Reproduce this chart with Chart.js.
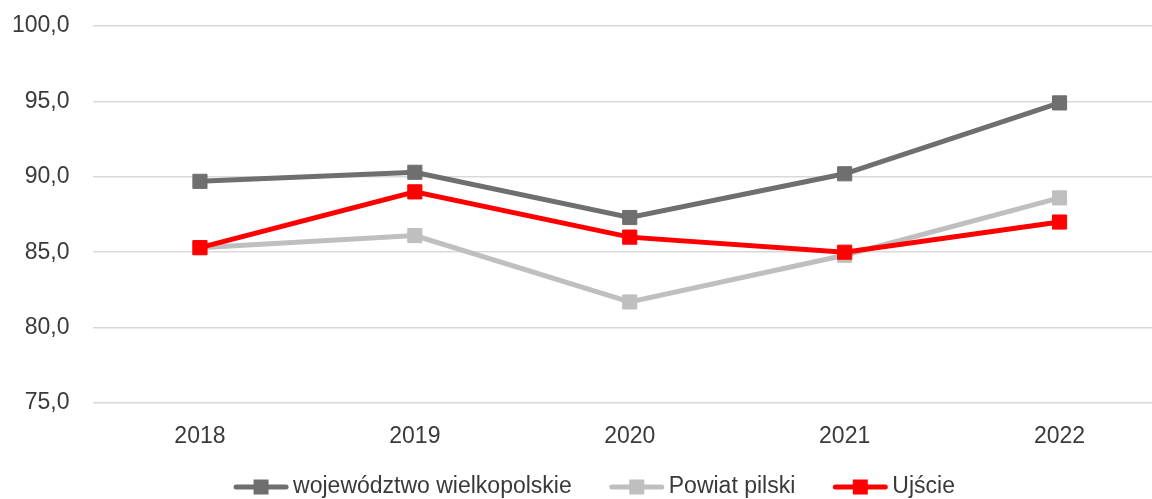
<!DOCTYPE html>
<html>
<head>
<meta charset="utf-8">
<script src="https://cdn.jsdelivr.net/npm/chart.js@4"></script>
<style>
    html, body { margin: 0; padding: 0; background: #fff; overflow: hidden; }
    #wrap { width: 1152px; height: 499px; overflow: hidden; }
    canvas { display: block; }
</style>
</head>
<body>
<div id="wrap"><canvas id="chart" width="1178" height="499"></canvas></div>
<script>
(function () {
    "use strict";

    // ======================================================================
    // Data
    //
    const
        years = ['2018', '2019', '2020', '2021', '2022'],
        wielkopolskie = [89.7, 90.3, 87.3, 90.2, 94.9],
        pilski = [85.3, 86.1, 81.7, 84.8, 88.6],
        ujscie = [85.3, 89.0, 86.0, 85.0, 87.0],
        seriesNames = ['województwo wielkopolskie', 'Powiat pilski', 'Ujście'],
        seriesColors = ['#6f6f6f', '#bfbfbf', '#ff0000'],
        yMin = 75,
        yMax = 100,
        yStep = 5;

    const FONT = "'Liberation Sans', Arial, sans-serif",
        TEXT = '#3a3a3a';

    // ======================================================================
    // Legend (line + square marker, like the office chart)
    //
    const lineLegend = {
        id: 'lineLegend',
        afterDraw(chart) {
            const ctx = chart.ctx,
                sets = chart.data.datasets,
                symW = 56, gapText = 4, gapItem = 37, y = 487, center = 594;

            ctx.save();
            ctx.font = `23px ${FONT}`;

            let widths = sets.map(ds => symW + gapText + ctx.measureText(ds.label).width),
                total = widths.reduce((a, b) => a + b, 0) + gapItem * (sets.length - 1),
                x = center - total / 2;

            sets.forEach((ds, i) => {
                ctx.strokeStyle = ds.borderColor;
                ctx.lineWidth = 5;
                ctx.lineCap = 'round';
                ctx.beginPath();
                ctx.moveTo(x + 3, y);
                ctx.lineTo(x + symW - 3, y);
                ctx.stroke();
                ctx.fillStyle = ds.borderColor;
                ctx.fillRect(x + symW / 2 - 7.5, y - 7.5, 15, 15);

                ctx.fillStyle = TEXT;
                ctx.textBaseline = 'middle';
                ctx.textAlign = 'left';
                ctx.fillText(ds.label, x + symW + gapText, y);
                x += widths[i] + gapItem;
            });
            ctx.restore();
        }
    };

    // ======================================================================
    // Chart
    //
    const
        makeSet = (idx, values, order) => ({
            label: seriesNames[idx],
            data: values,
            borderColor: seriesColors[idx],
            backgroundColor: seriesColors[idx],
            borderWidth: 5,
            pointStyle: 'rect',
            pointRadius: 10,
            pointHoverRadius: 10,
            pointBorderWidth: 1,
            tension: 0,
            order: order
        }),
        chart = new Chart(document.getElementById('chart'), {
            type: 'line',
            data: {
                labels: years,
                datasets: [
                    makeSet(0, wielkopolskie, 2),
                    makeSet(1, pilski, 1),
                    makeSet(2, ujscie, 0)
                ]
            },
            options: {
                responsive: false,
                maintainAspectRatio: false,
                animation: false,
                layout: { padding: { top: 26, bottom: 46, left: 0, right: 0 } },
                plugins: {
                    legend: { display: false },
                    tooltip: { enabled: false }
                },
                scales: {
                    x: {
                        offset: true,
                        grid: { display: false, drawTicks: false },
                        border: { display: false },
                        ticks: {
                            color: TEXT,
                            padding: 20,
                            font: { family: FONT, size: 23 }
                        },
                        afterFit: scale => {
                            scale.height = 50;
                            scale.paddingLeft = 0;
                            scale.paddingRight = 0;
                        }
                    },
                    y: {
                        min: yMin,
                        max: yMax,
                        grid: { color: '#d9d9d9', lineWidth: 1.5, drawTicks: false },
                        border: { display: false },
                        ticks: {
                            stepSize: yStep,
                            color: TEXT,
                            padding: 23,
                            font: { family: FONT, size: 23 },
                            callback: v => v.toFixed(1).replace('.', ',')
                        },
                        afterFit: scale => {
                            scale.width = 92.5;
                            scale.paddingTop = 0;
                            scale.paddingBottom = 0;
                        }
                    }
                }
            },
            plugins: [lineLegend]
        });
})();
</script>
</body>
</html>
